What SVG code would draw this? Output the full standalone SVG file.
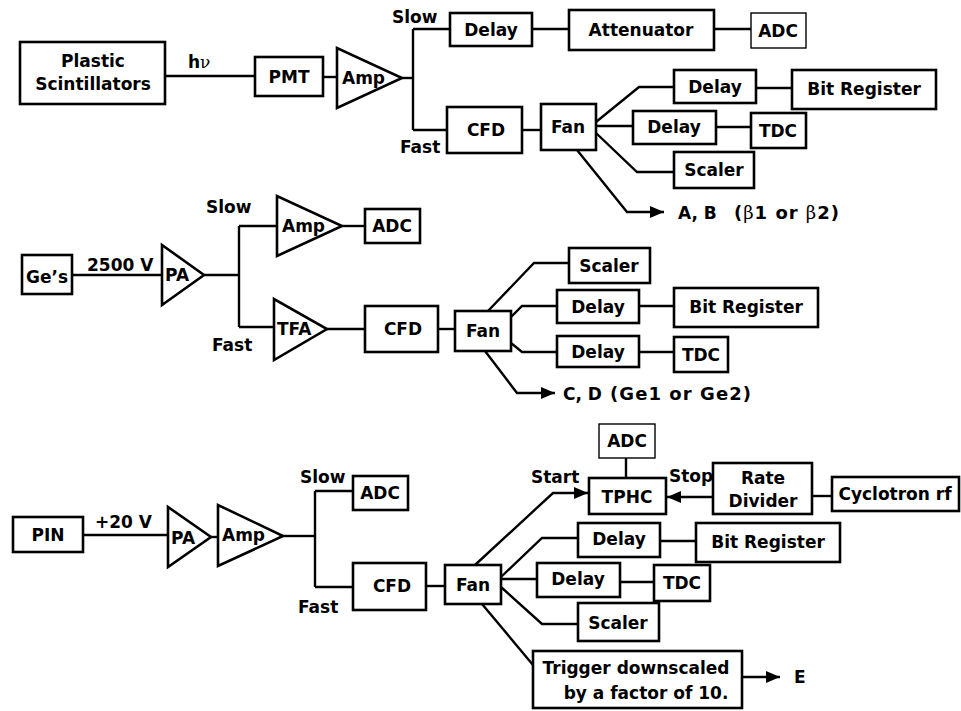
<svg xmlns="http://www.w3.org/2000/svg" width="961" height="711" viewBox="0 0 961 711">
<style>
text{font-family:"DejaVu Sans",Verdana,sans-serif;font-weight:bold;font-size:17px;fill:#000}
.c{text-anchor:middle}
.big{font-size:18px}
.sym{font-family:"DejaVu Serif","Liberation Serif",serif;font-weight:normal}
rect,polygon{fill:#fff;stroke:#000;stroke-width:2.6}
rect.thin{stroke-width:1.4}
rect.bg{stroke:none}
#connectors line,#connectors polyline{fill:none;stroke:#000;stroke-width:2.4}
</style>
<defs>
<marker id="ah" markerUnits="userSpaceOnUse" markerWidth="16" markerHeight="12" refX="14" refY="6" orient="auto">
<path d="M0,0 L14,6 L0,12 Z" fill="#000"/>
</marker>
</defs>
<rect class="bg" width="961" height="711"/>
<g id="connectors">
<!-- top -->
<line x1="165" y1="76" x2="255" y2="76"/>
<line x1="323" y1="77" x2="337" y2="77"/>
<line x1="402" y1="78" x2="413" y2="78"/>
<line x1="413" y1="29" x2="413" y2="130"/>
<line x1="413" y1="29" x2="450" y2="29"/>
<line x1="413" y1="130" x2="447" y2="130"/>
<line x1="532" y1="29" x2="569" y2="29"/>
<line x1="714" y1="29" x2="751" y2="29"/>
<line x1="522" y1="130" x2="541" y2="130"/>
<polyline points="596,122 639,87 674,87"/>
<line x1="756" y1="88" x2="792" y2="88"/>
<line x1="596" y1="126" x2="633" y2="126"/>
<line x1="716" y1="127" x2="751" y2="127"/>
<polyline points="596,133 637,172 674,172"/>
<polyline points="577,150 627,212 664,212" marker-end="url(#ah)"/>
<!-- middle -->
<line x1="72" y1="275" x2="162" y2="275"/>
<line x1="204" y1="275" x2="239" y2="275"/>
<line x1="239" y1="226" x2="239" y2="327"/>
<line x1="239" y1="226" x2="277" y2="226"/>
<line x1="239" y1="327" x2="274" y2="327"/>
<line x1="342" y1="226" x2="365" y2="226"/>
<line x1="327" y1="329" x2="365" y2="329"/>
<line x1="438" y1="329" x2="455" y2="329"/>
<polyline points="488,311 534,263 569,263"/>
<polyline points="511,317 522,306 557,306"/>
<line x1="639" y1="306" x2="674" y2="306"/>
<polyline points="511,343 522,352 557,352"/>
<line x1="639" y1="352" x2="674" y2="352"/>
<polyline points="485,351 517,393 555,393" marker-end="url(#ah)"/>
<!-- bottom -->
<line x1="83" y1="535" x2="168" y2="535"/>
<line x1="211" y1="537" x2="218" y2="537"/>
<line x1="283" y1="536" x2="315" y2="536"/>
<line x1="315" y1="491" x2="315" y2="587"/>
<line x1="315" y1="491" x2="353" y2="491"/>
<line x1="315" y1="587" x2="353" y2="587"/>
<line x1="426" y1="586" x2="445" y2="586"/>
<polyline points="475,565 553,493 588,493" marker-end="url(#ah)"/>
<line x1="626" y1="458" x2="626" y2="478"/>
<line x1="713" y1="497" x2="667" y2="497" marker-end="url(#ah)"/>
<line x1="812" y1="496" x2="832" y2="496"/>
<polyline points="501,577 542,538 578,538"/>
<line x1="660" y1="541" x2="696" y2="541"/>
<line x1="501" y1="579" x2="537" y2="579"/>
<line x1="620" y1="582" x2="654" y2="582"/>
<polyline points="501,587 542,624 578,624"/>
<line x1="482" y1="604" x2="533" y2="665"/>
<line x1="742" y1="677" x2="780" y2="677" marker-end="url(#ah)"/>
</g>
<!-- top section -->
<g id="plastic"><rect x="20" y="42" width="145" height="62"/><text class="c" x="93" y="67">Plastic</text><text class="c" x="93" y="90">Scintillators</text></g>
<g id="hv-label"><text x="188" y="68">h<tspan class="sym">ν</tspan></text></g>
<g id="pmt"><rect x="255" y="57" width="68" height="39"/><text class="c" x="289" y="83">PMT</text></g>
<g id="amp1"><polygon points="337,48 337,108 402,78"/><text x="342" y="84">Amp</text></g>
<g id="slow1"><text x="392" y="23">Slow</text></g>
<g id="fast1"><text x="400" y="153">Fast</text></g>
<g id="delay1a"><rect x="450" y="13" width="82" height="33"/><text class="c" x="491" y="36">Delay</text></g>
<g id="atten"><rect x="569" y="10" width="145" height="40"/><text class="c" x="641" y="36">Attenuator</text></g>
<g id="adc1"><rect class="thin" x="751" y="13" width="55" height="35"/><text class="c" x="778" y="37">ADC</text></g>
<g id="cfd1"><rect x="447" y="107" width="75" height="46"/><text class="c" x="486" y="136">CFD</text></g>
<g id="fan1"><rect x="541" y="104" width="55" height="46"/><text class="c" x="568" y="133">Fan</text></g>
<g id="delay1b"><rect x="674" y="70" width="82" height="33"/><text class="c" x="715" y="93">Delay</text></g>
<g id="bitreg1"><rect x="792" y="70" width="144" height="39"/><text class="c" x="864" y="95">Bit Register</text></g>
<g id="delay1c"><rect x="633" y="111" width="83" height="33"/><text class="c" x="674" y="133">Delay</text></g>
<g id="tdc1"><rect x="751" y="113" width="55" height="35"/><text class="c" x="778" y="137">TDC</text></g>
<g id="scaler1"><rect x="674" y="152" width="80" height="36"/><text class="c" x="714" y="176">Scaler</text></g>
<g id="out-ab"><text x="678" y="219">A, B</text><text class="big" x="734" y="219" textLength="105" lengthAdjust="spacing">(<tspan class="sym">β</tspan>1 or <tspan class="sym">β</tspan>2)</text></g>
<!-- middle section -->
<g id="ges"><rect x="22" y="255" width="50" height="39"/><text class="c" x="47" y="283">Ge’s</text></g>
<g id="v2500"><text x="87" y="271">2500 V</text></g>
<g id="pa2"><polygon points="162,245 162,305 204,275"/><text x="165" y="281">PA</text></g>
<g id="slow2"><text x="206" y="213">Slow</text></g>
<g id="fast2"><text x="212" y="351">Fast</text></g>
<g id="amp2"><polygon points="277,196 277,256 342,226"/><text x="282" y="232">Amp</text></g>
<g id="adc2"><rect x="365" y="209" width="55" height="34"/><text class="c" x="392" y="232">ADC</text></g>
<g id="tfa"><polygon points="274,299 274,360 327,329"/><text x="277" y="335">TFA</text></g>
<g id="cfd2"><rect x="365" y="306" width="73" height="46"/><text class="c" x="403" y="335">CFD</text></g>
<g id="fan2"><rect x="455" y="311" width="56" height="40"/><text class="c" x="483" y="337">Fan</text></g>
<g id="scaler2"><rect x="569" y="248" width="81" height="35"/><text class="c" x="609" y="272">Scaler</text></g>
<g id="delay2a"><rect x="557" y="290" width="82" height="33"/><text class="c" x="598" y="313">Delay</text></g>
<g id="bitreg2"><rect x="674" y="288" width="144" height="39"/><text class="c" x="746" y="313">Bit Register</text></g>
<g id="delay2b"><rect x="557" y="336" width="82" height="31"/><text class="c" x="598" y="358">Delay</text></g>
<g id="tdc2"><rect x="674" y="337" width="54" height="35"/><text class="c" x="701" y="361">TDC</text></g>
<g id="out-cd"><text x="563" y="400">C, D</text><text class="big" x="610" y="400" textLength="141" lengthAdjust="spacing">(Ge1 or Ge2)</text></g>
<!-- bottom section -->
<g id="pin"><rect x="13" y="517" width="70" height="35"/><text class="c" x="48" y="541">PIN</text></g>
<g id="v20"><text x="95" y="528">+20 V</text></g>
<g id="pa3"><polygon points="168,507 168,567 211,537"/><text x="171" y="544">PA</text></g>
<g id="amp3"><polygon points="218,505 218,566 283,536"/><text x="222" y="541">Amp</text></g>
<g id="slow3"><text x="300" y="483">Slow</text></g>
<g id="fast3"><text x="298" y="613">Fast</text></g>
<g id="adc3"><rect x="353" y="476" width="55" height="34"/><text class="c" x="380" y="499">ADC</text></g>
<g id="cfd3"><rect x="353" y="563" width="73" height="47"/><text class="c" x="392" y="592">CFD</text></g>
<g id="fan3"><rect x="445" y="565" width="56" height="39"/><text class="c" x="473" y="591">Fan</text></g>
<g id="start"><text x="531" y="483">Start</text></g>
<g id="adc4"><rect class="thin" x="599" y="424" width="56" height="34"/><text class="c" x="627" y="447">ADC</text></g>
<g id="tphc"><rect x="589" y="478" width="77" height="36"/><text class="c" x="627" y="503">TPHC</text></g>
<g id="stop"><text x="669" y="482">Stop</text></g>
<g id="ratediv"><rect x="713" y="463" width="99" height="51"/><text class="c" x="763" y="484">Rate</text><text class="c" x="763" y="507">Divider</text></g>
<g id="cyclo"><rect x="832" y="477" width="127" height="34"/><text class="c" x="895" y="500">Cyclotron rf</text></g>
<g id="delay3a"><rect x="578" y="523" width="82" height="34"/><text class="c" x="619" y="545">Delay</text></g>
<g id="bitreg3"><rect x="696" y="523" width="144" height="39"/><text class="c" x="768" y="548">Bit Register</text></g>
<g id="delay3b"><rect x="537" y="563" width="83" height="34"/><text class="c" x="578" y="585">Delay</text></g>
<g id="tdc3"><rect x="654" y="565" width="56" height="36"/><text class="c" x="682" y="589">TDC</text></g>
<g id="scaler3"><rect x="578" y="603" width="81" height="38"/><text class="c" x="618" y="629">Scaler</text></g>
<g id="trigger"><rect x="533" y="651" width="209" height="57"/><text class="c" x="636" y="674">Trigger downscaled</text><text class="c" x="646" y="699">by a factor of 10.</text></g>
<g id="out-e"><text x="794" y="683">E</text></g>
</svg>
